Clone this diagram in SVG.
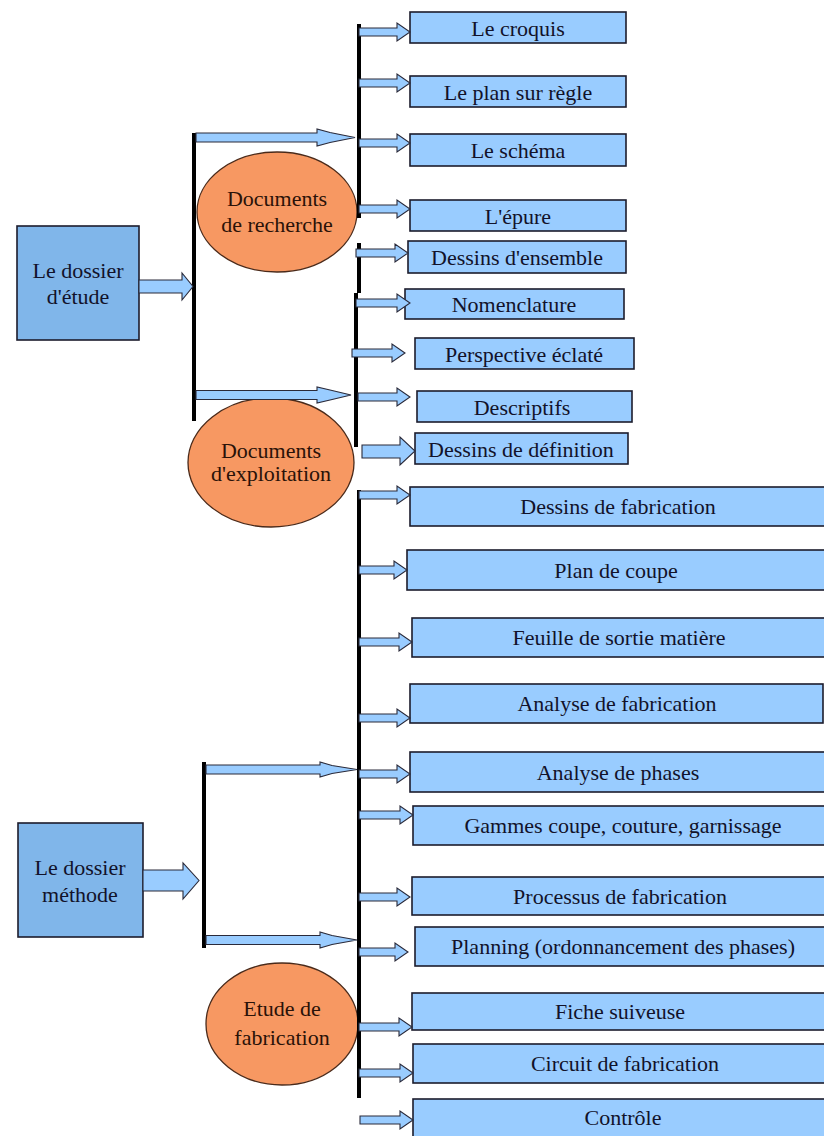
<svg xmlns="http://www.w3.org/2000/svg" width="824" height="1136" viewBox="0 0 824 1136">
  <style>
    .box { fill: #99ccff; stroke: #1c1c2c; stroke-width: 1.6; }
    .main { fill: #80b6ea; stroke: #1c1c2c; stroke-width: 1.6; }
    .oval { fill: #f79862; stroke: #4a2a1a; stroke-width: 1.3; }
    .arr { fill: #99ccff; stroke: #2a2a3a; stroke-width: 1.1; stroke-linejoin: miter; }
    .bar { fill: #000000; }
    .lbl { font-family: 'Liberation Serif', 'DejaVu Serif', serif; font-size: 22px; text-anchor: middle; fill: #12122a; }
    .oval-t { fill: #2a1208; }
  </style>
  <rect width="824" height="1136" fill="#ffffff"/>

  <!-- Root folders -->
  <g id="dossier-etude">
    <rect class="main" x="17" y="226" width="122" height="114"/>
    <text class="lbl" x="78" y="278">Le dossier</text>
    <text class="lbl" x="78" y="304">d'étude</text>
  </g>
  <g id="dossier-methode">
    <rect class="main" x="18" y="823" width="125" height="114"/>
    <text class="lbl" x="80" y="875">Le dossier</text>
    <text class="lbl" x="80" y="902">méthode</text>
  </g>

  <!-- Category ovals -->
  <g id="documents-recherche">
    <ellipse class="oval" cx="277" cy="212" rx="80" ry="60"/>
    <text class="lbl oval-t" x="277" y="206">Documents</text>
    <text class="lbl oval-t" x="277" y="232">de recherche</text>
  </g>
  <g id="documents-exploitation">
    <ellipse class="oval" cx="271" cy="462.5" rx="83" ry="64.5"/>
    <text class="lbl oval-t" x="271" y="458">Documents</text>
    <text class="lbl oval-t" x="271" y="481">d'exploitation</text>
  </g>
  <g id="etude-fabrication">
    <ellipse class="oval" cx="282" cy="1024" rx="76" ry="61"/>
    <text class="lbl oval-t" x="282" y="1016">Etude de</text>
    <text class="lbl oval-t" x="282" y="1045">fabrication</text>
  </g>

  <!-- Research documents -->
  <g id="croquis"><rect class="box" x="410" y="12" width="216" height="31"/><text class="lbl" x="518" y="36">Le croquis</text></g>
  <g id="plan-sur-regle"><rect class="box" x="410" y="76" width="216" height="31"/><text class="lbl" x="518" y="100">Le plan sur règle</text></g>
  <g id="schema"><rect class="box" x="410" y="134" width="216" height="32"/><text class="lbl" x="518" y="158">Le schéma</text></g>
  <g id="epure"><rect class="box" x="410" y="200" width="216" height="31"/><text class="lbl" x="518" y="224">L'épure</text></g>

  <!-- Working documents -->
  <g id="dessins-ensemble"><rect class="box" x="408" y="241" width="218" height="32"/><text class="lbl" x="517" y="265">Dessins d'ensemble</text></g>
  <g id="nomenclature"><rect class="box" x="405" y="289" width="219" height="30"/><text class="lbl" x="514" y="312">Nomenclature</text></g>
  <g id="perspective"><rect class="box" x="415" y="338" width="219" height="31"/><text class="lbl" x="524" y="362">Perspective éclaté</text></g>
  <g id="descriptifs"><rect class="box" x="417" y="391" width="215" height="31"/><text class="lbl" x="522" y="415">Descriptifs</text></g>
  <g id="dessins-definition"><rect class="box" x="415" y="433" width="213" height="31"/><text class="lbl" x="521" y="457">Dessins de définition</text></g>

  <!-- Manufacturing study documents -->
  <g id="dessins-fabrication"><rect class="box" x="410" y="487" width="418" height="39"/><text class="lbl" x="618" y="514">Dessins de fabrication</text></g>
  <g id="plan-coupe"><rect class="box" x="407" y="550" width="421" height="40"/><text class="lbl" x="616" y="578">Plan de coupe</text></g>
  <g id="feuille-sortie"><rect class="box" x="412" y="618" width="416" height="39"/><text class="lbl" x="619" y="645">Feuille de sortie matière</text></g>
  <g id="analyse-fabrication"><rect class="box" x="410" y="684" width="413" height="39"/><text class="lbl" x="617" y="711">Analyse de fabrication</text></g>
  <g id="analyse-phases"><rect class="box" x="410" y="752" width="418" height="40"/><text class="lbl" x="618" y="780">Analyse de phases</text></g>
  <g id="gammes"><rect class="box" x="413" y="806" width="420" height="39"/><text class="lbl" x="623" y="833">Gammes coupe, couture, garnissage</text></g>
  <g id="processus"><rect class="box" x="412" y="877" width="420" height="38"/><text class="lbl" x="620" y="904">Processus de fabrication</text></g>
  <g id="planning"><rect class="box" x="415" y="927" width="420" height="39"/><text class="lbl" x="623" y="954">Planning (ordonnancement des phases)</text></g>
  <g id="fiche-suiveuse"><rect class="box" x="412" y="993" width="420" height="37"/><text class="lbl" x="620" y="1019">Fiche suiveuse</text></g>
  <g id="circuit"><rect class="box" x="413" y="1044" width="420" height="39"/><text class="lbl" x="625" y="1071">Circuit de fabrication</text></g>
  <g id="controle"><rect class="box" x="413" y="1099" width="420" height="42"/><text class="lbl" x="623" y="1125">Contrôle</text></g>

  <!-- Connectors: black distribution bars and block arrows -->
  <g id="connectors">
    <rect class="bar" x="192" y="133" width="4" height="288"/>
    <rect class="bar" x="202" y="762" width="4" height="186"/>
    <rect class="bar" x="357" y="24" width="4" height="194"/>
    <rect class="bar" x="357" y="243" width="4" height="50"/>
    <rect class="bar" x="354" y="293" width="4" height="154"/>
    <rect class="bar" x="357" y="490" width="4" height="608"/>

    <!-- folder to bar -->
    <polygon class="arr" points="139,280 182,280 182,273 193,286.5 182,300 182,293 139,293"/>
    <polygon class="arr" points="143,870 183,870 183,863 199,880.5 183,899 183,891 143,891"/>

    <!-- bar to bar, tapered heads -->
    <polygon class="arr" points="196,133 317,133 317,129 330,132.5 355,137.5 330,142.5 317,146 317,142 196,142"/>
    <polygon class="arr" points="196,390.5 317,390.5 317,387 330,390 351,395 330,400 317,403 317,399.5 196,399.5"/>
    <polygon class="arr" points="206,765 320,765 320,762 332,765.5 357,769.5 332,773.5 320,777 320,774 206,774"/>
    <polygon class="arr" points="206,935.5 320,935.5 320,932 332,935.5 357,940 332,944.5 320,948 320,944.5 206,944.5"/>

    <!-- bar to documents -->
    <polygon class="arr" points="359,28 397,28 397,23 410,32 397,41 397,36 359,36"/>
    <polygon class="arr" points="359,79 397,79 397,74 410,83 397,92 397,87 359,87"/>
    <polygon class="arr" points="359,139 397,139 397,134 410,143 397,152 397,147 359,147"/>
    <polygon class="arr" points="359,205 397,205 397,200 410,209 397,218 397,213 359,213"/>
    <polygon class="arr" points="356,249 395,249 395,244 408,253 395,262 395,257 356,257"/>
    <polygon class="arr" points="356,299 397,299 397,294 410,303 397,312 397,307 356,307"/>
    <polygon class="arr" points="352,349 392,349 392,344 405,353 392,362 392,357 352,357"/>
    <polygon class="arr" points="358,393 397,393 397,388 410,397 397,406 397,401 358,401"/>
    <polygon class="arr" points="362,445 400,445 400,437 415,451 400,465 400,458 362,458"/>

    <polygon class="arr" points="359,491 397,491 397,486 410,495 397,504 397,499 359,499"/>
    <polygon class="arr" points="359,566 394,566 394,561 407,570 394,579 394,574 359,574"/>
    <polygon class="arr" points="359,638 399,638 399,633 412,642 399,651 399,646 359,646"/>
    <polygon class="arr" points="359,714 397,714 397,709 410,718 397,727 397,722 359,722"/>
    <polygon class="arr" points="359,770 397,770 397,765 410,774 397,783 397,778 359,778"/>
    <polygon class="arr" points="359,811 400,811 400,806 413,815 400,824 400,819 359,819"/>
    <polygon class="arr" points="359,893 397,893 397,888 410,897 397,906 397,901 359,901"/>
    <polygon class="arr" points="359,948 395,948 395,943 408,952 395,961 395,956 359,956"/>
    <polygon class="arr" points="359,1023 399,1023 399,1018 412,1027 399,1036 399,1031 359,1031"/>
    <polygon class="arr" points="359,1069 400,1069 400,1064 413,1073 400,1082 400,1077 359,1077"/>
    <polygon class="arr" points="360,1116 400,1116 400,1111 413,1120 400,1129 400,1124 360,1124"/>
  </g>
</svg>
